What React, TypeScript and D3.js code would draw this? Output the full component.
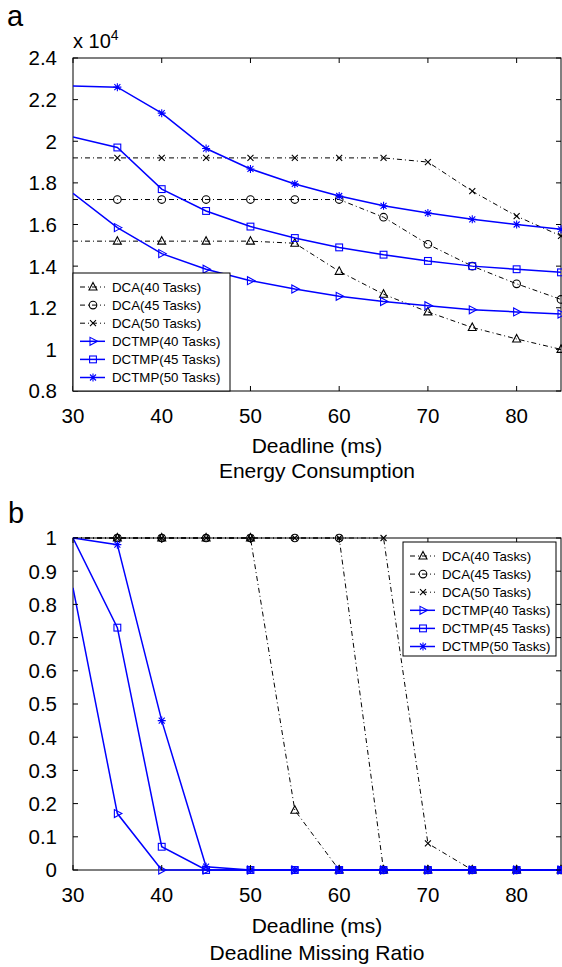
import React from "react";
import * as d3 from "d3";

const deadlines = [30, 35, 40, 45, 50, 55, 60, 65, 70, 75, 80, 85];

// Energy consumption (x 10^4)
const dcaE40 = [1.52, 1.52, 1.52, 1.52, 1.52, 1.51, 1.375, 1.265, 1.18, 1.105, 1.05, 1.0];
const dcaE45 = [1.72, 1.72, 1.72, 1.72, 1.72, 1.72, 1.72, 1.635, 1.505, 1.4, 1.315, 1.24];
const dcaE50 = [1.92, 1.92, 1.92, 1.92, 1.92, 1.92, 1.92, 1.92, 1.9, 1.76, 1.64, 1.545];
const dctmpE40 = [1.75, 1.585, 1.46, 1.385, 1.33, 1.29, 1.255, 1.23, 1.21, 1.19, 1.18, 1.17];
const dctmpE45 = [2.02, 1.97, 1.77, 1.665, 1.59, 1.535, 1.49, 1.455, 1.425, 1.4, 1.385, 1.37];
const dctmpE50 = [2.265, 2.26, 2.135, 1.965, 1.867, 1.795, 1.737, 1.69, 1.655, 1.625, 1.6, 1.577];

// Deadline missing ratio
const dcaM40 = [1, 1, 1, 1, 1, 0.18, 0, 0, 0, 0, 0, 0];
const dcaM45 = [1, 1, 1, 1, 1, 1, 1, 0, 0, 0, 0, 0];
const dcaM50 = [1, 1, 1, 1, 1, 1, 1, 1, 0.08, 0, 0, 0];
const dctmpM40 = [0.85, 0.17, 0, 0, 0, 0, 0, 0, 0, 0, 0, 0];
const dctmpM45 = [1, 0.73, 0.07, 0, 0, 0, 0, 0, 0, 0, 0, 0];
const dctmpM50 = [1, 0.98, 0.45, 0.01, 0, 0, 0, 0, 0, 0, 0, 0];

const seriesNames = [
  "DCA(40 Tasks)",
  "DCA(45 Tasks)",
  "DCA(50 Tasks)",
  "DCTMP(40 Tasks)",
  "DCTMP(45 Tasks)",
  "DCTMP(50 Tasks)",
];
const seriesMarkers = ["tri", "circle", "x", "triR", "square", "star"];
const energySeries = [dcaE40, dcaE45, dcaE50, dctmpE40, dctmpE45, dctmpE50];
const missSeries = [dcaM40, dcaM45, dcaM50, dctmpM40, dctmpM45, dctmpM50];

const xTicks = [30, 40, 50, 60, 70, 80];
const energyTicks = [0.8, 1, 1.2, 1.4, 1.6, 1.8, 2, 2.2, 2.4];
const missTicks = [0, 0.1, 0.2, 0.3, 0.4, 0.5, 0.6, 0.7, 0.8, 0.9, 1];

const FONT = "'Liberation Sans', Arial, Helvetica, sans-serif";
const BLUE = "#0000ff";
const DASH = "5,3,1,3";

function Marker({ kind, x, y, color }: { kind: string; x: number; y: number; color: string }) {
  const sw = 1.1;
  switch (kind) {
    case "tri":
      return <path d={`M${x},${y - 4.5}L${x + 4},${y + 3}L${x - 4},${y + 3}Z`} fill="none" stroke={color} strokeWidth={sw} />;
    case "triR":
      return <path d={`M${x + 4.5},${y}L${x - 3},${y - 4}L${x - 3},${y + 4}Z`} fill="none" stroke={color} strokeWidth={sw} />;
    case "circle":
      return <circle cx={x} cy={y} r={3.8} fill="none" stroke={color} strokeWidth={sw} />;
    case "square":
      return <rect x={x - 3.4} y={y - 3.4} width={6.8} height={6.8} fill="none" stroke={color} strokeWidth={sw} />;
    case "x":
      return <path d={`M${x - 3},${y - 3}L${x + 3},${y + 3}M${x - 3},${y + 3}L${x + 3},${y - 3}`} stroke={color} strokeWidth={sw} />;
    case "star":
      return (
        <path
          d={`M${x - 4},${y}L${x + 4},${y}M${x},${y - 4}L${x},${y + 4}M${x - 3},${y - 3}L${x + 3},${y + 3}M${x - 3},${y + 3}L${x + 3},${y - 3}`}
          stroke={color}
          strokeWidth={sw}
        />
      );
    default:
      return null;
  }
}

function Panel({
  top,
  bottom,
  yDomain,
  yTicks,
  data,
  legend,
  markerStart,
}: {
  top: number;
  bottom: number;
  yDomain: [number, number];
  yTicks: number[];
  data: number[][];
  legend: { x: number; y: number; w: number; h: number };
  markerStart: number;
}) {
  const left = 73;
  const right = 561;
  const x = d3.scaleLinear().domain([30, 85]).range([left, right]);
  const y = d3.scaleLinear().domain(yDomain).range([bottom, top]);
  const clipId = `clip-${top}`;
  const tl = 5;
  const fmt = (v: number) => String(+v.toFixed(1));

  const order = [0, 1, 2, 3, 4, 5];
  return (
    <g>
      <defs>
        <clipPath id={clipId}>
          <rect x={left} y={top - 1} width={right - left} height={bottom - top + 2} />
        </clipPath>
      </defs>
      {/* frame */}
      <rect x={left} y={top} width={right - left} height={bottom - top} fill="none" stroke="#000" strokeWidth={1} />
      {/* series */}
      {order.map((i) => {
        const vals = data[i];
        const isDca = i < 3;
        const color = isDca ? "#000" : BLUE;
        const line = d3
          .line<number>()
          .x((_, k) => x(deadlines[k]))
          .y((v) => y(v));
        return (
          <g key={i}>
            <path
              d={line(vals) || ""}
              fill="none"
              stroke={color}
              strokeWidth={isDca ? 1 : 1.5}
              strokeDasharray={isDca ? DASH : undefined}
              clipPath={`url(#${clipId})`}
            />
            {vals.map((v, k) =>
              k >= markerStart ? (
                <Marker key={k} kind={seriesMarkers[i]} x={x(deadlines[k])} y={y(v)} color={color} />
              ) : null
            )}
          </g>
        );
      })}
      {/* x ticks */}
      {xTicks.map((t) => (
        <g key={t}>
          <line x1={x(t)} x2={x(t)} y1={bottom} y2={bottom - tl} stroke="#000" />
          <line x1={x(t)} x2={x(t)} y1={top} y2={top + tl} stroke="#000" />
          <text x={x(t)} y={bottom + 32} textAnchor="middle" fontSize={20.5} fontFamily={FONT} fill="#000">
            {t}
          </text>
        </g>
      ))}
      {/* y ticks */}
      {yTicks.map((t) => (
        <g key={t}>
          <line x1={left} x2={left + tl} y1={y(t)} y2={y(t)} stroke="#000" />
          <line x1={right} x2={right - tl} y1={y(t)} y2={y(t)} stroke="#000" />
          <text x={57} y={y(t)} dy="0.36em" textAnchor="end" fontSize={20.5} fontFamily={FONT} fill="#000">
            {fmt(t)}
          </text>
        </g>
      ))}
      {/* legend */}
      <rect x={legend.x} y={legend.y} width={legend.w} height={legend.h} fill="#fff" stroke="#000" strokeWidth={1} />
      {seriesNames.map((name, i) => {
        const ly = legend.y + 14 + i * 18.1;
        const isDca = i < 3;
        const color = isDca ? "#000" : BLUE;
        const lx = legend.x + 7;
        return (
          <g key={name}>
            <line
              x1={lx}
              x2={lx + 25}
              y1={ly}
              y2={ly}
              stroke={color}
              strokeWidth={isDca ? 1 : 1.5}
              strokeDasharray={isDca ? DASH : undefined}
            />
            <Marker kind={seriesMarkers[i]} x={lx + 13} y={ly} color={color} />
            <text x={lx + 32} y={ly} dy="0.36em" fontSize={13.3} fontFamily={FONT} fill="#000">
              {name}
            </text>
          </g>
        );
      })}
    </g>
  );
}

export default function App() {
  return (
    <svg
      width={562}
      height={967}
      style={{ position: "absolute", left: 0, top: 0, background: "#fff" }}
      xmlns="http://www.w3.org/2000/svg"
    >
      <rect x={0} y={0} width={562} height={967} fill="#fff" />
      <text x={7} y={26} fontSize={29} fontFamily={FONT} fill="#000">
        a
      </text>
      <text x={73} y={48} fontSize={20} fontFamily={FONT} fill="#000">
        x 10
        <tspan fontSize={14} dy={-8}>
          4
        </tspan>
      </text>
      <Panel
        top={58}
        bottom={391}
        yDomain={[0.8, 2.4]}
        yTicks={energyTicks}
        data={energySeries}
        legend={{ x: 73, y: 273, w: 157, h: 118 }}
        markerStart={1}
      />
      <text x={317} y={453} textAnchor="middle" fontSize={21} fontFamily={FONT} fill="#000">
        Deadline (ms)
      </text>
      <text x={317} y={478} textAnchor="middle" fontSize={21} fontFamily={FONT} fill="#000">
        Energy Consumption
      </text>

      <text x={8} y={523} fontSize={29} fontFamily={FONT} fill="#000">
        b
      </text>
      <Panel
        top={538}
        bottom={870}
        yDomain={[0, 1]}
        yTicks={missTicks}
        data={missSeries}
        legend={{ x: 403, y: 542, w: 153, h: 114 }}
        markerStart={1}
      />
      <text x={317} y={933} textAnchor="middle" fontSize={21} fontFamily={FONT} fill="#000">
        Deadline (ms)
      </text>
      <text x={317} y={960} textAnchor="middle" fontSize={21} fontFamily={FONT} fill="#000">
        Deadline Missing Ratio
      </text>
    </svg>
  );
}
